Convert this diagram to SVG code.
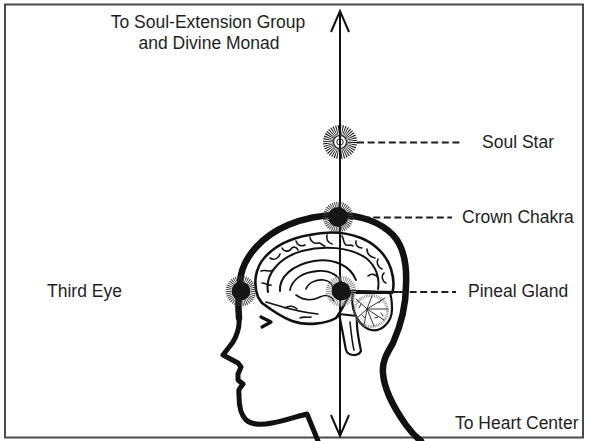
<svg xmlns="http://www.w3.org/2000/svg" width="589" height="441" viewBox="0 0 589 441">
  <defs>
    <style>
      .lbl{font-family:"Liberation Sans",Arial,Helvetica,sans-serif;font-size:17.5px;fill:#1e1e1e}
      .halo{fill:none;stroke:#3a3a3a;stroke-width:5.5;stroke-dasharray:0.9 1}
      .disk{fill:#151515}
      .dash{fill:none;stroke:#1e1e1e;stroke-width:2;stroke-dasharray:7 3.6}
      .ink{fill:none;stroke:#111;stroke-linecap:round;stroke-linejoin:round}
      .sulcus{fill:none;stroke:#151515;stroke-width:1.6;stroke-linecap:round;stroke-linejoin:round}
    </style>
    <marker id="openArrow" markerUnits="userSpaceOnUse" markerWidth="30" markerHeight="30" refX="21" refY="10" orient="auto-start-reverse" overflow="visible">
      <path d="M0,1 L21,10 L0,19" fill="none" stroke="#111" stroke-width="2"/>
    </marker>
  </defs>

  <!-- page and frame -->
  <rect width="589" height="441" fill="#fff"/>
  <rect x="5" y="4.5" width="578" height="433" fill="#fff" stroke="#4a4a4a" stroke-width="2"/>

  <!-- head silhouette with brain -->
  <g id="head">
    <!-- face profile and neck front -->
    <path class="ink" stroke-width="5" d="M318,441 L307,414 C298,416 285,421 272,423 C262,425 252,425 246,420 C240,414 239,405 239,396 C239,392 238,390 240,388 L243,384 L238,380 L238,374 L241,367 L238,363 L223,355 L233,342 C237,335 240,328 239,318"/>
    <!-- skull and back of neck -->
    <path class="ink" stroke-width="6.5" d="M239,318 C238,305 238,290 241,275 C245,256 262,236 288,225 C305,218 322,215 338,215 C360,215 380,222 393,235 C404,247 407,265 406,285 C406,305 401,325 393,343 C386,355 382,362 383,373 C384,390 394,408 406,425 C411,432 416,437 421,441"/>
    <!-- eye -->
    <path class="ink" stroke-width="3.2" d="M261,317 L271,322 L262,327"/>

    <!-- brainstem -->
    <path d="M339,314 C342,328 344,340 346,350 C348,356 358,357 361,351 C359,340 356,330 357,316 Z" fill="#fff" stroke="#111" stroke-width="2.2" stroke-linejoin="round"/>
    <path class="sulcus" stroke-width="1" d="M350,322 C351,332 352,342 354,350"/>
    <!-- cerebrum -->
    <path d="M258,297 C253,284 255,268 265,257 C276,245 292,238 309,235 C327,231 346,232 361,238 C376,244 387,256 391,269 C394,279 394,288 392,293 L352,291 C346,300 341,312 336,318 C326,324 306,326 292,321 C281,317 270,309 262,303 Z" fill="#fff" stroke="#111" stroke-width="2.6" stroke-linejoin="round"/>
    <!-- cerebellum -->
    <path d="M353,293 C350,306 356,323 368,329 C380,334 392,323 392,309 C392,301 391,296 390,293 Z" fill="#fff" stroke="#111" stroke-width="2.2" stroke-linejoin="round"/>
    <ellipse cx="371" cy="311" rx="16.5" ry="15.5" fill="none" stroke="#777" stroke-width="3" stroke-dasharray="0.7 1"/>
    <g stroke="#333" stroke-width="1" fill="none" stroke-linecap="round">
      <path d="M367,309 L356,299 M367,309 L357,318 M367,309 L364,325 M367,309 L374,326 M367,309 L384,320 M367,309 L388,309 M367,309 L385,298 M367,309 L372,296"/>
      <path d="M361,304 l-2,4 M362,315 l3,3 M375,318 l3,-1 M379,303 l2,-3 M381,313 l2,3"/>
    </g>
    <!-- tentorium line -->
    <path class="ink" stroke-width="2" d="M350,291 L398,292"/>

    <!-- limbic arcs -->
    <path class="ink" stroke-width="2" d="M268,292 C265,275 278,258 302,251 C324,245 350,247 366,258 C376,266 380,278 378,289"/>
    <path class="ink" stroke-width="2" d="M280,291 C279,277 292,265 314,261 C333,258 350,265 356,280"/>
    <path class="ink" stroke-width="1.8" d="M290,290 C292,280 302,272 318,271 C330,270 340,276 342,284"/>
    <path class="ink" stroke-width="1.6" d="M306,289 C308,283 316,279 324,280 C330,281 333,285 333,289"/>
    <path class="ink" stroke-width="1.6" d="M296,295 C303,300 312,301 320,297 C326,294 331,296 334,301"/>
    <path class="ink" stroke-width="1.6" d="M266,302 C280,306 296,312 318,314"/>

    <!-- sulci -->
    <path class="sulcus" d="M261,271 c5,-2 8,2 12,-1"/>
    <path class="sulcus" d="M270,258 c4,3 9,0 10,-4"/>
    <path class="sulcus" d="M282,248 c2,4 7,4 9,1 c2,-3 6,-2 7,1"/>
    <path class="sulcus" d="M296,241 c1,4 5,6 9,4"/>
    <path class="sulcus" d="M310,237 c0,4 4,7 8,6 c3,-1 4,3 7,3"/>
    <path class="sulcus" d="M327,235 c-1,4 1,8 5,9"/>
    <path class="sulcus" d="M342,236 c2,3 1,7 4,9 c3,1 5,-1 7,1"/>
    <path class="sulcus" d="M356,241 c-1,4 2,7 6,7"/>
    <path class="sulcus" d="M367,249 c0,5 4,8 8,9"/>
    <path class="sulcus" d="M378,259 c-2,4 0,8 4,10"/>
    <path class="sulcus" d="M384,273 c-3,3 -2,8 2,10"/>
    <path class="sulcus" d="M368,276 c3,-3 8,-2 10,2"/>
    <path class="sulcus" d="M262,283 c4,0 6,3 9,2"/>
    <path class="sulcus" d="M285,308 c4,-3 9,-2 12,1"/>
    <path class="sulcus" d="M300,318 c4,-2 8,0 11,-1"/>
  </g>

  <!-- connectors -->
  <g id="connectors">
    <path d="M340,11 L340,436" fill="none" stroke="#111" stroke-width="2" marker-start="url(#openArrow)" marker-end="url(#openArrow)"/>
    <path class="dash" d="M357,142.5 H462"/>
    <path class="dash" d="M352,217.5 H452"/>
    <path class="dash" d="M399,292 H456"/>
  </g>

  <!-- chakra points -->
  <g id="soul-star">
    <circle cx="340" cy="142" r="11.5" fill="none" stroke="#111" stroke-width="11" stroke-dasharray="0.8 1"/>
    <circle cx="340" cy="142" r="6.5" fill="#fff" stroke="#222" stroke-width="1.2"/>
    <circle cx="340" cy="142" r="3.2" fill="none" stroke="#222" stroke-width="1"/>
    <path d="M340,136 V148" stroke="#111" stroke-width="2"/>
    <text class="lbl" x="482" y="148">Soul Star</text>
  </g>

  <g id="crown-chakra">
    <circle class="halo" cx="338" cy="217" r="12.5"/>
    <circle class="disk" cx="338" cy="217" r="10"/>
    <text class="lbl" x="462" y="223">Crown Chakra</text>
  </g>

  <g id="pineal-gland">
    <circle class="halo" cx="341" cy="291" r="12.5" style="stroke:#8a8a8a"/>
    <circle class="disk" cx="341" cy="291" r="9.5"/>
    <text class="lbl" x="468" y="297">Pineal Gland</text>
  </g>

  <g id="third-eye">
    <circle class="halo" cx="241" cy="291" r="12.5"/>
    <circle class="disk" cx="241" cy="291" r="9.5"/>
    <text class="lbl" x="47" y="297">Third Eye</text>
  </g>

  <!-- direction labels -->
  <g id="upper-label">
    <text class="lbl" x="208" y="27.5" text-anchor="middle">To Soul-Extension Group</text>
    <text class="lbl" x="209" y="48.5" text-anchor="middle">and Divine Monad</text>
  </g>
  <g id="lower-label">
    <text class="lbl" x="455" y="429">To Heart Center</text>
  </g>
</svg>
